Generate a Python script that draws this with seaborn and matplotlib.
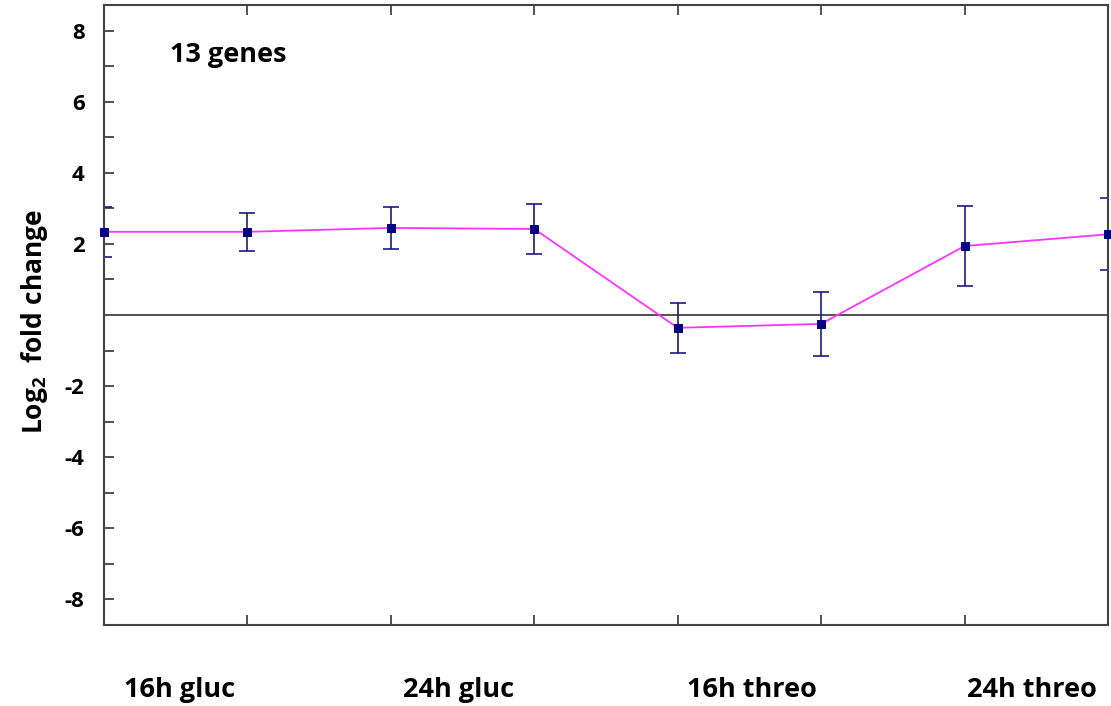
import numpy as np
import pandas as pd
import matplotlib
matplotlib.use("Agg")
import matplotlib.pyplot as plt
import seaborn as sns

# values (log2 fold change, 13 genes)
point = [0, 1, 2, 3, 4, 5, 6, 7]
log2fc = [2.34, 2.34, 2.45, 2.42, -0.36, -0.25, 1.94, 2.27]
err = [0.70, 0.54, 0.60, 0.70, 0.70, 0.90, 1.13, 1.01]
group_labels = ["16h gluc", "24h gluc", "16h threo", "24h threo"]
group_pos = [0.53, 2.47, 4.52, 6.47]

df = pd.DataFrame({"point": point, "log2fc": log2fc, "err": err})

sns.set_style("ticks")
plt.rcParams["font.family"] = ["Open Sans", "DejaVu Sans"]
plt.rcParams["font.weight"] = "bold"
plt.rcParams["axes.unicode_minus"] = False
plt.rcParams["text.color"] = "black"
plt.rcParams["axes.labelcolor"] = "black"
plt.rcParams["ytick.labelcolor"] = "black"
plt.rcParams["mathtext.fontset"] = "custom"
plt.rcParams["mathtext.bf"] = "Open Sans:bold"
plt.rcParams["mathtext.rm"] = "Open Sans:bold"

fig = plt.figure(figsize=(11.11, 7.06), dpi=100)
ax = fig.add_axes([0.0936, 0.1147, 0.9037, 0.8782])

ax.axhline(0, color="#333333", lw=1.2, zorder=1)
ax.errorbar(df["point"], df["log2fc"], yerr=df["err"], fmt="none",
            ecolor="#1a1a80", elinewidth=1.2, capsize=6, capthick=1.2, zorder=2)
sns.lineplot(data=df, x="point", y="log2fc", ax=ax, color="#ff33ff", lw=1.3,
             marker="s", markersize=6, markerfacecolor="#000080",
             markeredgecolor="#000080", zorder=3, clip_on=False)

ax.set_xlim(0, 7)
ax.set_ylim(-8.72, 8.72)
ax.set_yticks([-8, -6, -4, -2, 2, 4, 6, 8])
ax.set_yticks([-7, -5, -3, -1, 1, 3, 5, 7], minor=True)
ax.set_xticks([1, 2, 3, 4, 5, 6])
ax.set_xticklabels([])
ax.tick_params(axis="y", which="both", direction="in", length=7, width=1.2,
               labelsize=16, color="#333333", labelcolor="black", pad=14)
ax.tick_params(axis="x", direction="in", length=7, width=1.2, color="#333333",
               top=True)
for lab in ax.get_yticklabels():
    lab.set_fontweight("bold")
for s in ax.spines.values():
    s.set_color("#444444")
    s.set_linewidth(1.5)

ax.set_xlabel("")
ax.set_ylabel("Log$_\\mathbf{2}$  fold change", fontsize=19, fontweight="bold",
              color="black")
ax.yaxis.set_label_coords(-0.054, 0.49)

for lbl, x in zip(group_labels, group_pos):
    ax.text(x, -10.55, lbl, ha="center", va="center", fontsize=19.5,
            fontweight="bold", color="black", clip_on=False)

ax.text(0.46, 7.3, "13 genes", ha="left", va="center", fontsize=19.5,
        fontweight="bold", color="black")

fig.savefig("out.png", dpi=100)
